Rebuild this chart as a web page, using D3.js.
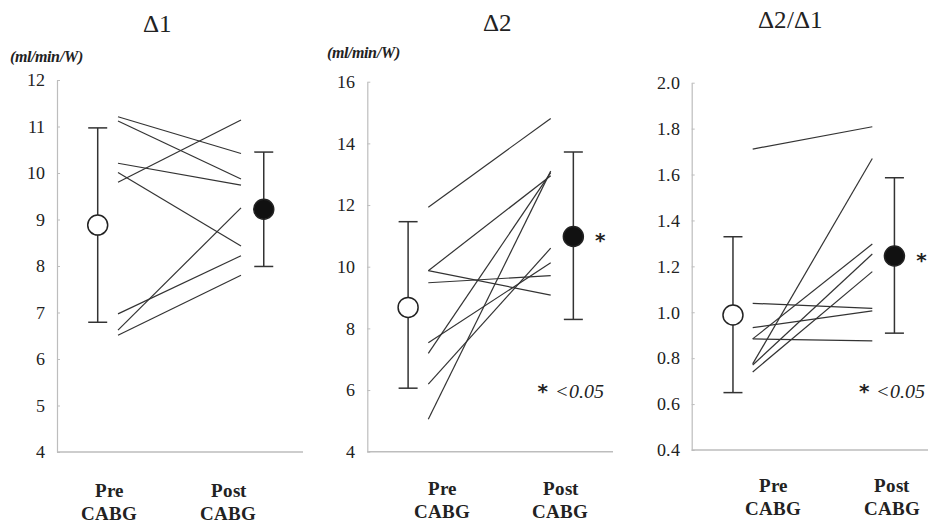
<!DOCTYPE html>
<html>
<head>
<meta charset="utf-8">
<title>Pre / Post CABG</title>
<script src="https://d3js.org/d3.v7.min.js"></script>
<style>
  @font-face { font-family: "ChartSerif"; src: local("Liberation Serif"), local("LiberationSerif"); font-weight: normal; font-style: normal; }
  @font-face { font-family: "ChartSerif"; src: local("Liberation Serif Bold"), local("LiberationSerif-Bold"); font-weight: bold; font-style: normal; }
  @font-face { font-family: "ChartSerif"; src: local("Liberation Serif Italic"), local("LiberationSerif-Italic"); font-weight: normal; font-style: italic; }
  @font-face { font-family: "ChartSerif"; src: local("Liberation Serif Bold Italic"), local("LiberationSerif-BoldItalic"); font-weight: bold; font-style: italic; }
  body { margin: 0; }
  text { font-family: ChartSerif, "Liberation Serif", serif; }
  text.star { font-family: "DejaVu Sans", sans-serif; font-weight: bold; }
</style>
</head>
<body>
<script>
// ---- data ----
var titles = ["\u03941", "\u03942", "\u03942/\u03941"];
var units = ["(ml/min/W)", "(ml/min/W)", ""];
var yDomains = [[4, 12], [4, 16], [0.4, 2.0]];
var yTicks = [
  [4, 5, 6, 7, 8, 9, 10, 11, 12],
  [4, 6, 8, 10, 12, 14, 16],
  [0.4, 0.6, 0.8, 1.0, 1.2, 1.4, 1.6, 1.8, 2.0]
];
var tickFormats = ["d", "d", ".1f"];

// individual patients: [pre, post]
var delta1Pairs = [[11.21, 10.42], [11.12, 9.87], [10.21, 9.74], [10.01, 8.43],
                   [9.80, 11.14], [6.97, 8.22], [6.62, 9.25], [6.51, 7.80]];
var delta2Pairs = [[11.93, 14.81], [9.87, 12.95], [9.87, 9.08], [9.48, 9.71],
                   [7.53, 10.13], [7.19, 13.05], [6.19, 10.60], [5.05, 13.10]];
var ratioPairs  = [[1.711, 1.808], [0.775, 1.670], [0.884, 1.297], [0.770, 1.254],
                   [0.740, 1.177], [1.039, 1.017], [0.933, 1.006], [0.884, 0.875]];

// group mean with error bar: [low, mean, high]
var preMeans  = [[6.79, 8.88, 10.97], [6.06, 8.68, 11.46], [0.65, 0.988, 1.329]];
var postMeans = [[7.99, 9.22, 10.45], [8.29, 10.98, 13.72], [0.909, 1.245, 1.586]];
var significant = [false, true, true];

var catLabels = [["Pre", "CABG"], ["Post", "CABG"]];

// ---- layout ----
var W = 928, H = 526;
var panels = [
  {axisX: 57,    top: 80,   bottom: 452, right: 303, x0: 118,   x1: 241,   cat: [109, 228],   catY: 497, titleY: 32, unitX: 10,  unitY: 62},
  {axisX: 367.3, top: 81.7, bottom: 451.7, right: 613, x0: 428.3, x1: 550.7, cat: [441.7, 560], catY: 495, titleY: 31, unitX: 327, unitY: 58},
  {axisX: 691.7, top: 82.7, bottom: 450, right: 935, x0: 752.7, x1: 872.3, cat: [773, 891.7], catY: 492, titleY: 28, unitX: 0, unitY: 0}
];
var pairsAll = [delta1Pairs, delta2Pairs, ratioPairs];
var titleX = [157, 497, 790];

var svg = d3.select("body").append("svg")
  .attr("width", W).attr("height", H);

function label(g, x, y, s, size) {
  return g.append("text")
    .attr("x", x).attr("y", y)
    .style("font-size", size + "px")
    .attr("fill", "#222")
    .text(s);
}

panels.forEach(function(p, i) {
  var y = d3.scaleLinear().domain(yDomains[i]).range([p.bottom, p.top]);
  // 0 = pre line end, 1 = post line end; means sit a bit outside
  var x = d3.scaleLinear().domain([0, 1]).range([p.x0, p.x1]);
  var preMeanX = -0.165, postMeanX = 1.185;

  // y axis
  var ax = svg.append("g")
    .attr("transform", "translate(" + p.axisX + ",0)")
    .call(d3.axisLeft(y).tickValues(yTicks[i]).tickFormat(d3.format(tickFormats[i]))
      .tickSizeInner(-3).tickSizeOuter(0).tickPadding(12));
  ax.attr("font-family", null).attr("font-size", null);
  ax.select(".domain").attr("stroke", "#bdbdbd").attr("stroke-width", 1.2);
  ax.selectAll(".tick line").attr("stroke", "#bdbdbd");
  ax.selectAll(".tick text")
    .attr("fill", "#222")
    .style("font-size", "18px");

  // x axis line
  svg.append("line")
    .attr("x1", p.axisX).attr("x2", p.right)
    .attr("y1", p.bottom).attr("y2", p.bottom)
    .attr("stroke", "#bdbdbd").attr("stroke-width", 1.5);

  // individual lines
  svg.append("g").selectAll("line").data(pairsAll[i]).enter().append("line")
    .attr("x1", x(0)).attr("x2", x(1))
    .attr("y1", function(d) { return y(d[0]); })
    .attr("y2", function(d) { return y(d[1]); })
    .attr("stroke", "#333").attr("stroke-width", 1.2);

  // means with error bars
  [[preMeans[i], preMeanX, "#fff"], [postMeans[i], postMeanX, "#111"]].forEach(function(m) {
    var v = m[0], cx = x(m[1]);
    svg.append("line").attr("x1", cx).attr("x2", cx)
      .attr("y1", y(v[0])).attr("y2", y(v[2]))
      .attr("stroke", "#333").attr("stroke-width", 1.5);
    [v[0], v[2]].forEach(function(c) {
      svg.append("line").attr("x1", cx - 9.5).attr("x2", cx + 9.5)
        .attr("y1", y(c)).attr("y2", y(c))
        .attr("stroke", "#333").attr("stroke-width", 1.5);
    });
    svg.append("circle").attr("cx", cx).attr("cy", y(v[1])).attr("r", 10)
      .attr("fill", m[2]).attr("stroke", "#222").attr("stroke-width", 1.5);
  });

  if (significant[i]) {
    label(svg, x(postMeanX) + 27, y(postMeans[i][1]) + 11, "*", 20)
      .attr("class", "star").attr("text-anchor", "middle");
    label(svg, x(1) - 8, 398, "*", 20)
      .attr("class", "star").attr("text-anchor", "middle");
    label(svg, x(1) + 4, 398, "<0.05", 20).style("font-style", "italic");
  }

  // title
  label(svg, titleX[i], p.titleY, titles[i], 25).attr("text-anchor", "middle");

  // units
  if (units[i]) {
    label(svg, p.unitX, p.unitY, units[i], 16)
      .style("font-style", "italic").style("font-weight", "bold");
  }

  // category labels
  catLabels.forEach(function(lbl, k) {
    lbl.forEach(function(s, j) {
      label(svg, p.cat[k], p.catY + j * 23, s, 19)
        .attr("text-anchor", "middle").style("font-weight", "bold");
    });
  });
});
</script>
</body>
</html>
